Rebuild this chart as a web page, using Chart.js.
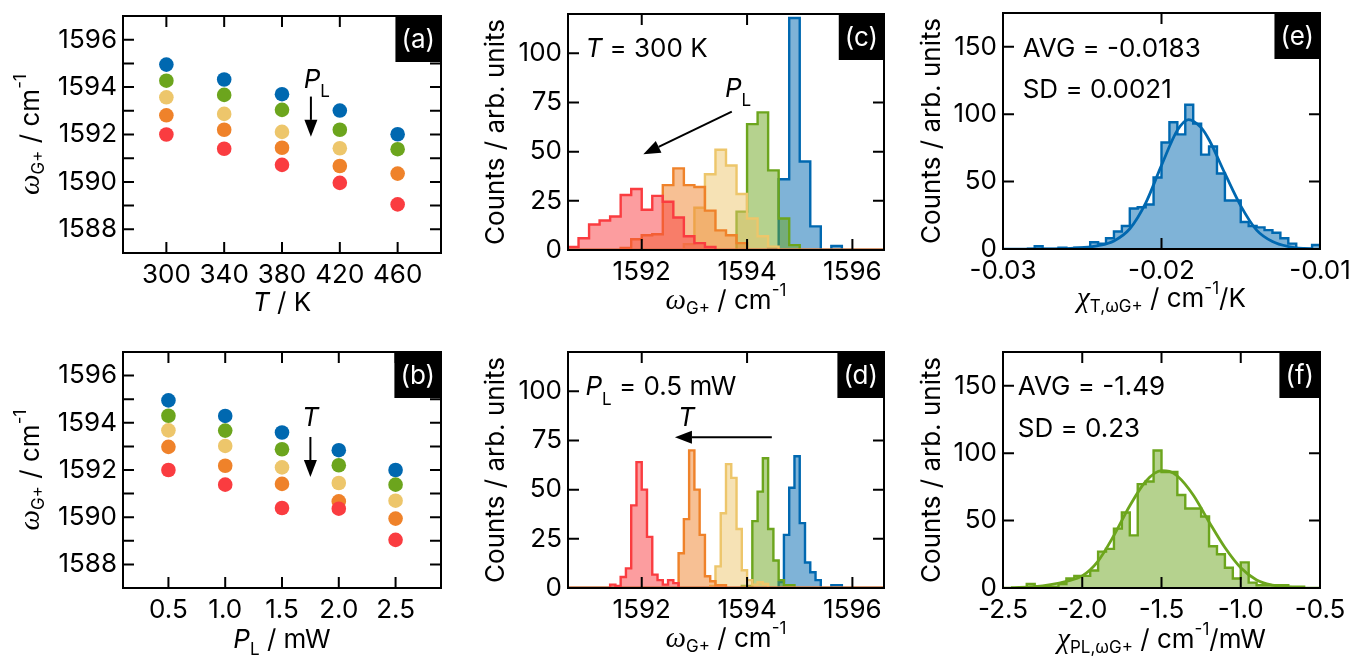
<!DOCTYPE html>
<html>
<head>
<meta charset="utf-8">
<script src="https://cdn.jsdelivr.net/npm/chart.js@4/dist/chart.umd.min.js"></script>
<style>
  body { margin: 0; background: #fff; width: 1350px; height: 658px; overflow: hidden; position: relative; }
  canvas { position: absolute; }
</style>
</head>
<body>
<canvas id="pa" width="450" height="329" style="left:0;top:0"></canvas>
<canvas id="pb" width="450" height="329" style="left:0;top:329px"></canvas>
<canvas id="pc" width="450" height="329" style="left:450px;top:0"></canvas>
<canvas id="pd" width="450" height="329" style="left:450px;top:329px"></canvas>
<canvas id="pe" width="450" height="329" style="left:900px;top:0"></canvas>
<canvas id="pf" width="450" height="329" style="left:900px;top:329px"></canvas>
<script>
// ---- data ----
const tempK = [300, 340, 380, 420, 460];
const powerMW = [0.5, 1.0, 1.5, 2.0, 2.5];

// (a) omega_G+ vs T, one row per laser power
const aP05 = [1594.95, 1594.32, 1593.70, 1593.01, 1592.01];
const aP10 = [1594.27, 1593.67, 1593.04, 1592.20, 1591.38];
const aP15 = [1593.57, 1592.87, 1592.11, 1591.42, null];
const aP20 = [1592.81, 1592.20, 1591.44, 1590.67, 1590.35];
const aP25 = [1592.00, 1591.40, 1590.72, 1589.96, 1589.05];

// (b) omega_G+ vs P_L, one row per temperature
const bT300 = [1594.95, 1594.29, 1593.59, 1592.84, 1592.00];
const bT340 = [1594.30, 1593.67, 1592.88, 1592.20, 1591.38];
const bT380 = [1593.68, 1593.02, 1592.11, 1591.45, 1590.70];
const bT420 = [1592.98, 1592.18, 1591.41, 1590.67, 1589.94];
const bT460 = [1592.00, 1591.38, 1590.39, 1590.36, 1589.04];

// (c) histograms at T = 300 K, 0.2 cm-1 bins (start = left edge of first bin)
const cBin = 0.2;
const cStartP05 = 1594.4, cP05 = [1, 36, 118, 45, 12, 0, 2];
const cStartP10 = 1593.8, cP10 = [19.5, 64, 70, 40.5, 16, 2.5];
const cStartP15 = 1592.8, cP15 = [3, 21.5, 38.5, 51, 43, 28.5, 16, 7, 1.7];
const cStartP20 = 1591.6, cP20 = [1, 5.5, 7.5, 8, 33, 41.5, 33, 32, 20, 10, 7.5, 3.5];
const cStartP25 = 1590.6, cP25 = [1.5, 6, 13, 15, 17, 28, 31, 20.5, 27.5, 24.5, 16.5, 7, 3.5, 1.5];

// (d) histograms at P_L = 0.5 mW, 0.1 cm-1 bins
const dBin = 0.1;
const dStartT300 = 1594.6, dT300 = [3, 27, 51, 67, 33, 13, 8, 4, 0, 0, 1.4, 1.4];
const dStartT340 = 1593.9, dT340 = [1, 1, 34, 49, 66, 30, 14, 4, 1.4, 1.4];
const dStartT380 = 1593.3, dT380 = [1, 11, 38, 63, 56, 30, 9, 4, 1.7, 2.9, 2];
const dStartT420 = 1592.7, dT420 = [17.7, 35, 70, 50, 27, 6, 3.4, 1.4, 1.4];
const dStartT460 = 1591.4, dT460 = [1.7, 1, 5.6, 10, 42, 64, 50, 26, 6.8, 4, 1.7, 4, 2.5];

// (e) chi_T histogram and fit
const eStart = -0.03, eBin = 0.0005;
const eCounts = [0, 0, 0, 0, 2, 0, 0, 1, 0, 1, 1, 5, 4, 8, 13, 17, 30, 31, 33, 53, 79, 94, 85, 107, 93, 70, 76, 56, 36, 36, 20, 17, 16, 14, 12, 8, 4, 0, 0, 3];
const eFitX = [-0.0285, -0.026, -0.025, -0.024, -0.023, -0.022, -0.021, -0.020, -0.019, -0.0183, -0.0175, -0.017, -0.016, -0.015, -0.014, -0.013, -0.012, -0.011, -0.0105];
const eFitY = [0, 0.3, 1, 2.5, 6, 15, 34, 62, 88, 96, 90, 81, 56, 32, 14, 5.5, 1.8, 0.4, 0.2];

// (f) chi_PL histogram and fit
const fStart = -2.5, fBin = 0.05;
const fCounts = [0, 0, 0, 3, 1, 1, 1, 3, 7, 9, 9, 13, 27, 29, 44, 56, 39, 77, 79, 102, 86, 86, 69, 59, 59, 53, 31, 25, 15, 7, 19, 4, 2, 2, 2, 2, 1, 1, 0, 0];
const fFitX = [-2.45, -2.3, -2.2, -2.1, -2.0, -1.9, -1.8, -1.7, -1.6, -1.5, -1.45, -1.4, -1.3, -1.2, -1.1, -1.0, -0.9, -0.8, -0.7, -0.6];
const fFitY = [0.3, 1, 2.5, 5, 9, 20, 39, 61, 79, 87, 86.5, 83, 69, 49, 30, 15, 6, 2.2, 0.7, 0.2];

// tick values
const omegaTicks = [1588, 1590, 1592, 1594, 1596];
const omegaMinor = [1587, 1588, 1589, 1590, 1591, 1592, 1593, 1594, 1595, 1596, 1597];
const wavenumTicks = [1592, 1594, 1596];
const histCountTicks = [0, 25, 50, 75, 100];
const countTicks = [0, 50, 100, 150];
const chiTTicks = [-0.03, -0.02, -0.01];
const chiPTicks = [-2.5, -2.0, -1.5, -1.0, -0.5];

// ---- styling ----
const blue = '#0068b0', green = '#6ca51d', yellow = '#edc66b', orange = '#ef822a', red = '#fa3c40';
const fills = { [blue]: 'rgba(0,104,176,0.5)', [green]: 'rgba(108,165,29,0.5)', [yellow]: 'rgba(237,198,107,0.5)', [orange]: 'rgba(239,130,42,0.5)', [red]: 'rgba(250,60,64,0.5)' };
const F = '26px Inter', FI = 'italic 26px Inter', FS = '17px Inter', GR = 'italic 29px "Liberation Serif"';
Chart.defaults.font.family = 'Inter';

const pts = (xs, ys) => xs.map((x, i) => ({ x, y: ys[i] })).filter(p => p.y !== null);

function steps(start, w, counts, lo, hi) {
  const p = [{ x: lo, y: 0 }];
  counts.forEach((c, i) => p.push({ x: start + i * w, y: c }));
  p.push({ x: start + counts.length * w, y: 0 }, { x: hi, y: 0 });
  return p;
}

function dots(ys, color, order) {
  return { data: ys, backgroundColor: color, borderWidth: 0, pointRadius: 7.3, order };
}
function hist(data, color, order) {
  return { data, showLine: true, stepped: true, borderColor: color, backgroundColor: fills[color],
           fill: 'origin', borderWidth: 2.4, pointRadius: 0, order };
}
function curve(xs, ys, color) {
  return { data: pts(xs, ys), showLine: true, borderColor: color, borderWidth: 2.8, pointRadius: 0,
           fill: false, cubicInterpolationMode: 'monotone', order: 0 };
}

function rich(ctx, parts, x, y, align, rot) {
  ctx.save();
  ctx.translate(x, y);
  if (rot) ctx.rotate(rot);
  ctx.textBaseline = 'middle';
  ctx.textAlign = 'left';
  let w = 0;
  parts.forEach(p => { ctx.font = p[1]; w += ctx.measureText(p[0]).width; });
  let cx = align === 'center' ? -w / 2 : 0;
  parts.forEach(p => { ctx.font = p[1]; ctx.fillText(p[0], cx, p[2] || 0); cx += ctx.measureText(p[0]).width; });
  ctx.restore();
}

function arrow(ctx, x1, y1, x2, y2) {
  const ang = Math.atan2(y2 - y1, x2 - x1), hl = 17, hw = 6.5;
  const bx = x2 - hl * Math.cos(ang), by = y2 - hl * Math.sin(ang);
  ctx.beginPath(); ctx.moveTo(x1, y1); ctx.lineTo(bx, by); ctx.stroke();
  ctx.beginPath();
  ctx.moveTo(x2, y2);
  ctx.lineTo(bx + hw * Math.sin(ang), by - hw * Math.cos(ang));
  ctx.lineTo(bx - hw * Math.sin(ang), by + hw * Math.cos(ang));
  ctx.closePath(); ctx.fill();
}

// frame, inward ticks, panel letter, titles and notes
function decor(s) {
  return {
    id: 'decor',
    afterDraw(chart) {
      const ctx = chart.ctx, a = chart.chartArea, X = chart.scales.x, Y = chart.scales.y;
      ctx.save();
      ctx.strokeStyle = '#000'; ctx.fillStyle = '#000'; ctx.lineWidth = 2;
      const L = 11;
      ctx.beginPath();
      s.xMarks.forEach(v => {
        const p = X.getPixelForValue(v);
        ctx.moveTo(p, a.bottom); ctx.lineTo(p, a.bottom - L);
        ctx.moveTo(p, a.top); ctx.lineTo(p, a.top + L);
      });
      s.yMarks.forEach(v => {
        const p = Y.getPixelForValue(v);
        ctx.moveTo(a.left, p); ctx.lineTo(a.left + L, p);
        ctx.moveTo(a.right, p); ctx.lineTo(a.right - L, p);
      });
      ctx.stroke();
      ctx.strokeRect(a.left, a.top, a.right - a.left, a.bottom - a.top);

      ctx.font = F;
      const bw = ctx.measureText(s.letter).width + 12, bh = 46;
      ctx.fillRect(a.right - bw, a.top, bw, bh);
      ctx.fillStyle = '#fff'; ctx.textAlign = 'center'; ctx.textBaseline = 'middle';
      ctx.fillText(s.letter, a.right - bw / 2, a.top + bh / 2 + 1);
      ctx.fillStyle = '#000';

      rich(ctx, s.xTitle, (a.left + a.right) / 2, a.bottom + s.xOff, 'center', 0);
      rich(ctx, s.yTitle, a.left - s.yOff, (a.top + a.bottom) / 2, 'center', -Math.PI / 2);

      (s.notes || []).forEach(n => rich(ctx, n.parts, X.getPixelForValue(n.x), Y.getPixelForValue(n.y), n.align));
      ctx.lineWidth = 2;
      (s.arrows || []).forEach(r => arrow(ctx, X.getPixelForValue(r[0]), Y.getPixelForValue(r[1]),
                                               X.getPixelForValue(r[2]), Y.getPixelForValue(r[3])));
      ctx.restore();
    }
  };
}

function axis(min, max, ticks, fmt, dir, size) {
  return {
    type: 'linear', min, max,
    grid: { display: false, drawTicks: false },
    border: { display: false },
    ticks: { font: { family: 'Inter', size: 26 }, color: '#000', padding: dir === 'x' ? 7 : 6,
             autoSkip: false, maxRotation: 0, callback: v => fmt(v) },
    afterBuildTicks: sc => { sc.ticks = ticks.map(v => ({ value: v })); },
    afterFit: sc => {
      if (dir === 'x') sc.height = size; else sc.width = size;
      sc.paddingLeft = sc.paddingRight = sc.paddingTop = sc.paddingBottom = 0;
    }
  };
}

function panel(id, datasets, x, y, s) {
  new Chart(document.getElementById(id), {
    type: 'scatter',
    data: { datasets },
    options: {
      responsive: false, animation: false, events: [],
      layout: { padding: { top: s.top, right: s.right, left: 0, bottom: 0 } },
      plugins: { legend: { display: false }, tooltip: { enabled: false } },
      scales: { x, y }
    },
    plugins: [decor(s)]
  });
}

const omegaTitle = [['ω', GR], ['G+', FS, 8], [' / cm', F], ['-1', FS, -10]];
const countTitle = [['Counts / arb. units', F]];
const fmt0 = v => String(v), fmt1 = v => v.toFixed(1), fmt2 = v => v.toFixed(2);

// (a)
panel('pa', [
  dots(pts(tempK, aP05), blue, 5), dots(pts(tempK, aP10), green, 4), dots(pts(tempK, aP15), yellow, 3),
  dots(pts(tempK, aP20), orange, 2), dots(pts(tempK, aP25), red, 1)
], axis(270, 490, tempK, fmt0, 'x', 76), axis(1587, 1597, omegaTicks, fmt0, 'y', 123), {
  top: 16, right: 9, letter: '(a)', xMarks: tempK, yMarks: omegaMinor,
  xTitle: [['T', FI], [' / K', F]], xOff: 50, yTitle: omegaTitle, yOff: 92,
  notes: [{ x: 395, y: 1594.3, parts: [['P', FI], ['L', FS, 12]] }],
  arrows: [[400, 1593.6, 400, 1591.9]]
});

// (b)
panel('pb', [
  dots(pts(powerMW, bT300), blue, 5), dots(pts(powerMW, bT340), green, 4), dots(pts(powerMW, bT380), yellow, 3),
  dots(pts(powerMW, bT420), orange, 2), dots(pts(powerMW, bT460), red, 1)
], axis(0.1, 2.9, powerMW, fmt1, 'x', 70), axis(1587, 1597, omegaTicks, fmt0, 'y', 123), {
  top: 23, right: 9, letter: '(b)', xMarks: powerMW, yMarks: omegaMinor,
  xTitle: [['P', FI], ['L', FS, 10], [' / mW', F]], xOff: 52, yTitle: omegaTitle, yOff: 92,
  notes: [{ x: 1.75, y: 1594.2, parts: [['T', FI]], align: 'center' }],
  arrows: [[1.75, 1593.4, 1.75, 1591.7]]
});

// (c)
const wLo = 1590.6, wHi = 1596.6;
panel('pc', [
  hist(steps(cStartP05, cBin, cP05, wLo, wHi), blue, 5), hist(steps(cStartP10, cBin, cP10, wLo, wHi), green, 4),
  hist(steps(cStartP15, cBin, cP15, wLo, wHi), yellow, 3), hist(steps(cStartP20, cBin, cP20, wLo, wHi), orange, 2),
  hist(steps(cStartP25, cBin, cP25, wLo, wHi), red, 1)
], axis(wLo, wHi, wavenumTicks, fmt0, 'x', 79), axis(0, 120, histCountTicks, fmt0, 'y', 118), {
  top: 14, right: 16, letter: '(c)', xMarks: wavenumTicks, yMarks: histCountTicks,
  xTitle: omegaTitle, xOff: 51, yTitle: countTitle, yOff: 72,
  notes: [{ x: 1590.93, y: 102, parts: [['T', FI], [' = 300 K', F]] },
          { x: 1593.58, y: 82, parts: [['P', FI], ['L', FS, 12]] }],
  arrows: [[1593.71, 70.4, 1592.03, 48.7]]
});

// (d)
panel('pd', [
  hist(steps(dStartT300, dBin, dT300, wLo, wHi), blue, 5), hist(steps(dStartT340, dBin, dT340, wLo, wHi), green, 4),
  hist(steps(dStartT380, dBin, dT380, wLo, wHi), yellow, 3), hist(steps(dStartT420, dBin, dT420, wLo, wHi), orange, 2),
  hist(steps(dStartT460, dBin, dT460, wLo, wHi), red, 1)
], axis(wLo, wHi, wavenumTicks, fmt0, 'x', 70), axis(0, 120, histCountTicks, fmt0, 'y', 118), {
  top: 23, right: 16, letter: '(d)', xMarks: wavenumTicks, yMarks: histCountTicks,
  xTitle: omegaTitle, xOff: 51, yTitle: countTitle, yOff: 72,
  notes: [{ x: 1590.93, y: 102, parts: [['P', FI], ['L', FS, 12], [' = 0.5 mW', F]] },
          { x: 1592.85, y: 86.3, parts: [['T', FI]], align: 'center' }],
  arrows: [[1594.47, 76.7, 1592.63, 76.7]]
});

// (e)
panel('pe', [
  hist(steps(eStart, eBin, eCounts, -0.03, -0.01), blue, 1),
  curve(eFitX, eFitY, blue)
], axis(-0.03, -0.01, chiTTicks, fmt2, 'x', 80), axis(0, 175, countTicks, fmt0, 'y', 103), {
  top: 13, right: 30, letter: '(e)', xMarks: chiTTicks, yMarks: countTicks,
  xTitle: [['χ', GR], ['T,ωG+', FS, 8], [' / cm', F], ['-1', FS, -10], ['/K', F]], xOff: 50,
  yTitle: countTitle, yOff: 71,
  notes: [{ x: -0.02876, y: 148, parts: [['AVG = -0.0183', F]] },
          { x: -0.02876, y: 118, parts: [['SD = 0.0021', F]] }]
});

// (f)
panel('pf', [
  hist(steps(fStart, fBin, fCounts, -2.5, -0.5), green, 1),
  curve(fFitX, fFitY, green)
], axis(-2.5, -0.5, chiPTicks, fmt1, 'x', 70), axis(0, 175, countTicks, fmt0, 'y', 103), {
  top: 23, right: 30, letter: '(f)', xMarks: chiPTicks, yMarks: countTicks,
  xTitle: [['χ', GR], ['PL,ωG+', FS, 8], [' / cm', F], ['-1', FS, -10], ['/mW', F]], xOff: 52,
  yTitle: countTitle, yOff: 71,
  notes: [{ x: -2.407, y: 149, parts: [['AVG = -1.49', F]] },
          { x: -2.407, y: 118, parts: [['SD = 0.23', F]] }]
});
</script>
</body>
</html>
